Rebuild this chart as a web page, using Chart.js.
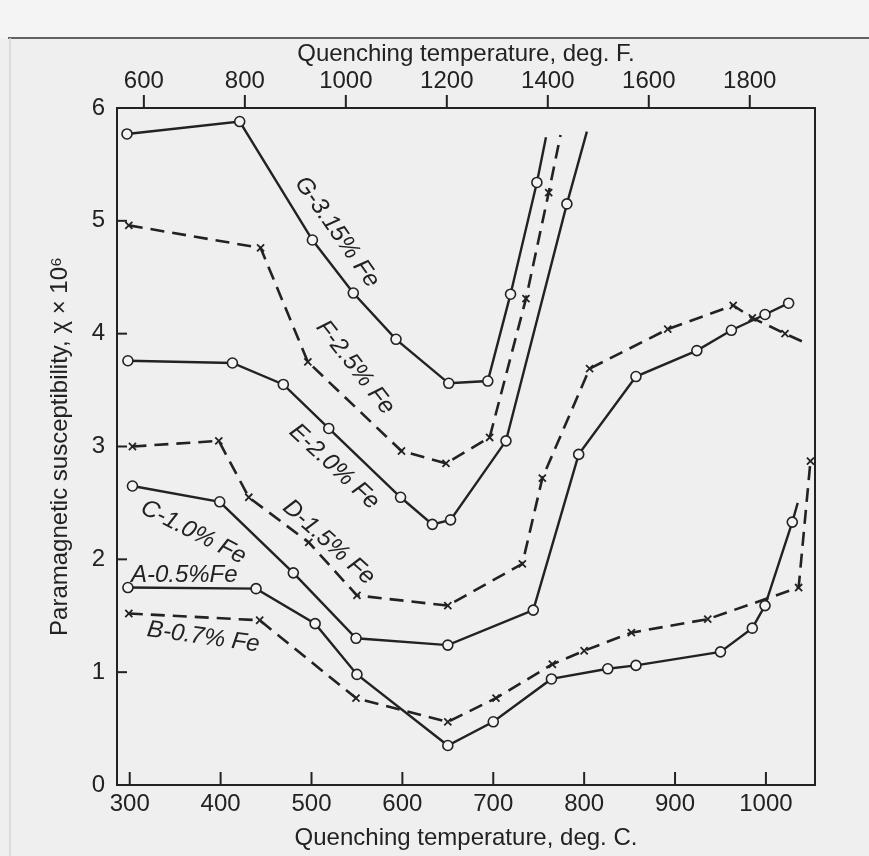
<!DOCTYPE html>
<html lang="en">
<head>
<meta charset="UTF-8">
<title>Paramagnetic susceptibility vs quenching temperature</title>
<script src="https://cdn.jsdelivr.net/npm/chart.js"></script>
<style>
  body { margin: 0; background: #efefef; }
  #wrap { width: 869px; height: 856px; }
</style>
</head>
<body>
<div id="wrap"><canvas id="chart" width="869" height="856"></canvas></div>
<script>
// quenching temperature (deg C) and susceptibility (x 10^6), one pair per curve
const tempA = [298, 439, 504, 550, 650, 700, 764, 826, 857, 950, 985, 999, 1029, 1035];
const chiA  = [1.75, 1.74, 1.43, 0.98, 0.35, 0.56, 0.94, 1.03, 1.06, 1.18, 1.39, 1.59, 2.33, 2.50];

const tempB = [299, 443, 549, 650, 703, 765, 800, 852, 936, 1036, 1049];
const chiB  = [1.52, 1.46, 0.77, 0.56, 0.77, 1.07, 1.19, 1.35, 1.47, 1.75, 2.87];

const tempC = [303, 399, 480, 549, 650, 744, 794, 857, 924, 962, 999, 1025];
const chiC  = [2.65, 2.51, 1.88, 1.30, 1.24, 1.55, 2.93, 3.62, 3.85, 4.03, 4.17, 4.27];

const tempD = [303, 398, 431, 497, 550, 650, 732, 754, 806, 892, 964, 985, 1021, 1043];
const chiD  = [3.00, 3.05, 2.55, 2.15, 1.68, 1.59, 1.96, 2.72, 3.69, 4.04, 4.25, 4.14, 4.00, 3.92];

const tempE = [298, 413, 469, 519, 598, 633, 653, 714, 781, 803];
const chiE  = [3.76, 3.74, 3.55, 3.16, 2.55, 2.31, 2.35, 3.05, 5.15, 5.79];

const tempF = [299, 444, 496, 599, 648, 696, 736, 761, 774];
const chiF  = [4.96, 4.76, 3.75, 2.96, 2.85, 3.08, 4.31, 5.25, 5.76];

const tempG = [297, 421, 501, 546, 593, 651, 694, 719, 748, 758];
const chiG  = [5.77, 5.88, 4.83, 4.36, 3.95, 3.56, 3.58, 4.35, 5.34, 5.74];

const cTicks = [300, 400, 500, 600, 700, 800, 900, 1000];
const fTicks = [600, 800, 1000, 1200, 1400, 1600, 1800];
const chiTicks = [0, 1, 2, 3, 4, 5, 6];
const cMin = 286, cMax = 1054;

const toF = c => c * 9 / 5 + 32;
const pts = (xs, ys) => xs.map((x, i) => ({ x: x, y: ys[i] }));

// labels written along the curves (data coordinates, rotation in degrees)
const curveLabels = [
  { text: 'G-3.15% Fe', c: 528, chi: 4.90, angle: 55 },
  { text: 'F-2.5% Fe', c: 548, chi: 3.70, angle: 52 },
  { text: 'E-2.0% Fe', c: 525, chi: 2.82, angle: 43 },
  { text: 'D-1.5% Fe', c: 519, chi: 2.15, angle: 42 },
  { text: 'C-1.0% Fe', c: 370, chi: 2.24, angle: 27 },
  { text: 'A-0.5%Fe', c: 360, chi: 1.86, angle: 0 },
  { text: 'B-0.7% Fe', c: 381, chi: 1.31, angle: 8 }
];

const ink = '#222';
const font = '"Liberation Sans", "DejaVu Sans", sans-serif';

const solid = (label, data, openEnd) => ({
  label: label, data: data, openEnd: openEnd,
  borderColor: ink, borderWidth: 2.4,
  pointStyle: 'circle', pointBackgroundColor: '#f3f3f3',
  pointBorderColor: ink, pointBorderWidth: 1.6
});
const dashed = (label, data, openEnd) => ({
  label: label, data: data, openEnd: openEnd,
  borderColor: ink, borderWidth: 2.6, borderDash: [14, 8],
  pointStyle: 'crossRot', pointBorderColor: ink, pointBorderWidth: 1.8
});

const framePlugin = {
  id: 'frame',
  beforeDraw(chart) {
    const ctx = chart.ctx;
    ctx.save();
    ctx.fillStyle = '#efefef';
    ctx.fillRect(0, 0, chart.width, chart.height);
    ctx.fillStyle = '#f4f4f4';
    ctx.fillRect(0, 0, chart.width, 38);
    ctx.strokeStyle = '#333';
    ctx.lineWidth = 1.5;
    ctx.beginPath(); ctx.moveTo(8, 38); ctx.lineTo(chart.width, 38); ctx.stroke();
    ctx.strokeStyle = '#d4d4d4';
    ctx.beginPath(); ctx.moveTo(10, 38); ctx.lineTo(10, chart.height); ctx.stroke();
    ctx.restore();
  },
  afterDraw(chart) {
    const { ctx, chartArea: a, scales } = chart;
    ctx.save();
    ctx.strokeStyle = ink;
    ctx.lineWidth = 2;
    ctx.strokeRect(a.left, a.top, a.right - a.left, a.bottom - a.top);
    const line = (x1, y1, x2, y2) => { ctx.beginPath(); ctx.moveTo(x1, y1); ctx.lineTo(x2, y2); ctx.stroke(); };
    cTicks.forEach(v => { const x = scales.x.getPixelForValue(v); line(x, a.bottom, x, a.bottom - 13); });
    fTicks.forEach(v => { const x = scales.xF.getPixelForValue(v); line(x, a.top, x, a.top - 13); });
    chiTicks.slice(1, -1).forEach(v => { const y = scales.y.getPixelForValue(v); line(a.left, y, a.left + 10, y); });

    ctx.fillStyle = ink;
    ctx.font = 'italic 24px ' + font;
    ctx.textAlign = 'center';
    ctx.textBaseline = 'middle';
    curveLabels.forEach(l => {
      ctx.save();
      ctx.translate(scales.x.getPixelForValue(l.c), scales.y.getPixelForValue(l.chi));
      ctx.rotate(l.angle * Math.PI / 180);
      ctx.fillText(l.text, 0, 0);
      ctx.restore();
    });
    ctx.restore();
  }
};

const tickFont = { family: font, size: 24 };
const titleFont = { family: font, size: 24 };

new Chart(document.getElementById('chart'), {
  type: 'scatter',
  data: {
    datasets: [
      solid('A', pts(tempA, chiA), true),
      dashed('B', pts(tempB, chiB), false),
      solid('C', pts(tempC, chiC), false),
      dashed('D', pts(tempD, chiD), true),
      solid('E', pts(tempE, chiE), true),
      dashed('F', pts(tempF, chiF), true),
      solid('G', pts(tempG, chiG), true)
    ]
  },
  options: {
    responsive: false,
    animation: false,
    devicePixelRatio: 1,
    showLine: true,
    layout: { padding: { left: 0, right: 54, top: 0, bottom: 0 } },
    elements: {
      line: { tension: 0, fill: false },
      point: {
        radius: ctx => (ctx.dataset.openEnd && ctx.dataIndex === ctx.dataset.data.length - 1) ? 0 : 5,
        hoverRadius: 5
      }
    },
    plugins: {
      legend: { display: false },
      tooltip: { enabled: false }
    },
    scales: {
      x: {
        type: 'linear', position: 'bottom', min: cMin, max: cMax,
        afterBuildTicks: s => { s.ticks = cTicks.map(v => ({ value: v })); },
        afterFit: s => { s.height = 71; },
        grid: { display: false, drawTicks: false },
        border: { display: false },
        ticks: { font: tickFont, color: ink, padding: 5, autoSkip: false, maxRotation: 0, callback: v => String(v) },
        title: { display: true, text: 'Quenching temperature, deg. C.', font: titleFont, color: ink, padding: { bottom: 3 } }
      },
      xF: {
        type: 'linear', position: 'top', min: toF(cMin), max: toF(cMax),
        afterBuildTicks: s => { s.ticks = fTicks.map(v => ({ value: v })); },
        afterFit: s => { s.height = 108; },
        grid: { display: false, drawTicks: false },
        border: { display: false },
        ticks: { font: tickFont, color: ink, padding: 12, autoSkip: false, maxRotation: 0, callback: v => String(v) },
        title: { display: true, text: 'Quenching temperature, deg. F.', font: titleFont, color: ink, padding: { top: 40 } }
      },
      y: {
        type: 'linear', position: 'left', min: 0, max: 6,
        afterBuildTicks: s => { s.ticks = chiTicks.map(v => ({ value: v })); },
        afterFit: s => { s.width = 117; },
        grid: { display: false, drawTicks: false },
        border: { display: false },
        ticks: { font: tickFont, color: ink, padding: 12, autoSkip: false, callback: v => String(v) },
        title: { display: true, text: 'Paramagnetic susceptibility, χ × 10⁶', font: { family: font, size: 24 }, color: ink, padding: { top: 46 } }
      }
    }
  },
  plugins: [framePlugin]
});
</script>
</body>
</html>
